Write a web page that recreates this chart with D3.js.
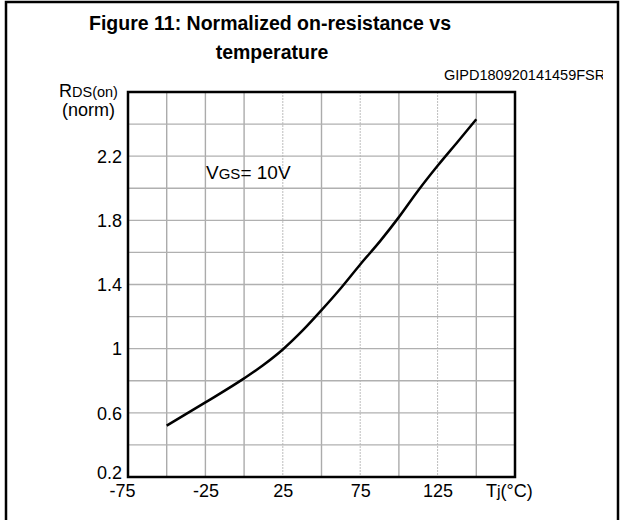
<!DOCTYPE html>
<html><head><meta charset="utf-8">
<script src="https://cdn.jsdelivr.net/npm/d3@7"></script>
<style>
html,body{margin:0;padding:0;background:#fff;}
text{font-family:"Liberation Sans",Arial,sans-serif;fill:#000;}
</style></head>
<body>
<script>
// ---- data ----
const temps  = [-50, -25, 0, 12, 25, 38, 50, 63, 75, 88, 100, 112, 125, 138, 150];
const rdsOn  = [0.52, 0.665, 0.815, 0.895, 0.995, 1.115, 1.24, 1.383, 1.525, 1.672, 1.82, 1.98, 2.14, 2.29, 2.43];
const xTickLabels = [-75, -25, 25, 75, 125];
const yTickLabels = [0.2, 0.6, 1, 1.4, 1.8, 2.2];
const xGrid = [-50, -25, 0, 25, 50, 75, 100, 125, 150];
const xGridDotted = [25, 75, 125];
const yGrid = [0.4, 0.6, 0.8, 1.0, 1.2, 1.4, 1.6, 1.8, 2.0, 2.2, 2.4];
const titleLines = ["Figure 11: Normalized on-resistance vs", "temperature"];
const codeLabel = "GIPD180920141459FSR";

const W = 621, H = 520;
const svg = d3.select("body").append("svg").attr("width", W).attr("height", H);
svg.append("rect").attr("width", W).attr("height", H).attr("fill", "#fff");

// outer frame
svg.append("path").attr("d", "M6,520V2H618V520").attr("fill", "none")
  .attr("stroke", "#000").attr("stroke-width", 2.5);

// title
svg.append("text").attr("x", 270).attr("y", 30).attr("text-anchor", "middle")
  .attr("font-size", 19.5).attr("font-weight", "bold").text(titleLines[0]);
svg.append("text").attr("x", 272).attr("y", 59).attr("text-anchor", "middle")
  .attr("font-size", 19.5).attr("font-weight", "bold").text(titleLines[1]);

// code label clipped
svg.append("clipPath").attr("id", "codeclip").append("rect")
  .attr("x", 400).attr("y", 60).attr("width", 203).attr("height", 30);
svg.append("text").attr("x", 444).attr("y", 80).attr("font-size", 14.5)
  .attr("clip-path", "url(#codeclip)").text(codeLabel);

// scales
const x = d3.scaleLinear().domain([-75, 175]).range([128, 515]);
const y = d3.scaleLinear().domain([0.2, 2.6]).range([477, 92]);

// grid
const g = svg.append("g");
g.selectAll(".vg").data(xGrid).join("line")
  .attr("x1", d => x(d)).attr("x2", d => x(d)).attr("y1", y(2.6)).attr("y2", y(0.2))
  .attr("stroke", d => xGridDotted.includes(d) ? "#bdbdbd" : "#ababab")
  .attr("stroke-width", d => xGridDotted.includes(d) ? 1 : 1.4)
  .attr("stroke-dasharray", d => xGridDotted.includes(d) ? "2,1" : null);
g.selectAll(".hg").data(yGrid).join("line")
  .attr("y1", d => y(d)).attr("y2", d => y(d)).attr("x1", x(-75)).attr("x2", x(175))
  .attr("stroke", "#b0b0b0").attr("stroke-width", 1.4);

// plot border
svg.append("rect").attr("x", x(-75)).attr("y", y(2.6))
  .attr("width", x(175) - x(-75)).attr("height", y(0.2) - y(2.6))
  .attr("fill", "none").attr("stroke", "#000").attr("stroke-width", 2.5);

// axes (labels only)
const yAxis = svg.append("g").attr("transform", `translate(${x(-75)},0)`)
  .call(d3.axisLeft(y).tickValues(yTickLabels).tickSize(0).tickPadding(6)
    .tickFormat(d => String(d)));
yAxis.select(".domain").remove();
yAxis.selectAll("text").attr("font-size", 18).attr("font-family", "Liberation Sans, Arial, sans-serif")
  .attr("fill", "#000").attr("dy", d => d === 0.2 ? "0.11em" : "0.35em");

const xAxis = svg.append("g").attr("transform", `translate(0,${y(0.2)})`)
  .call(d3.axisBottom(x).tickValues(xTickLabels).tickSize(0).tickPadding(6)
    .tickFormat(d => String(d)));
xAxis.select(".domain").remove();
xAxis.selectAll("text").attr("font-size", 18).attr("font-family", "Liberation Sans, Arial, sans-serif")
  .attr("fill", "#000").attr("dx", d => d === -75 ? -6 : 0).attr("dy", "0.8em");

// axis titles
const yl = svg.append("text").attr("x", 59).attr("y", 97);
yl.append("tspan").attr("font-size", 18).text("R");
yl.append("tspan").attr("font-size", 14.5).text("DS(on)");
svg.append("text").attr("x", 62).attr("y", 116).attr("font-size", 18).text("(norm)");

const xl = svg.append("text").attr("x", 486).attr("y", 497);
xl.append("tspan").attr("font-size", 18).text("T");
xl.append("tspan").attr("font-size", 16).text("j");
xl.append("tspan").attr("font-size", 18).text("(°C)");

// annotation
const vg = svg.append("text").attr("x", 206).attr("y", 179);
vg.append("tspan").attr("font-size", 19).text("V");
vg.append("tspan").attr("font-size", 15).text("GS");
vg.append("tspan").attr("font-size", 19).text("= 10V");

// curve
const line = d3.line().x((d, i) => x(temps[i])).y(d => y(d)).curve(d3.curveMonotoneX);
svg.append("path").datum(rdsOn).attr("d", line).attr("fill", "none")
  .attr("stroke", "#000").attr("stroke-width", 2.5).attr("stroke-linejoin", "round");
</script>
</body></html>
